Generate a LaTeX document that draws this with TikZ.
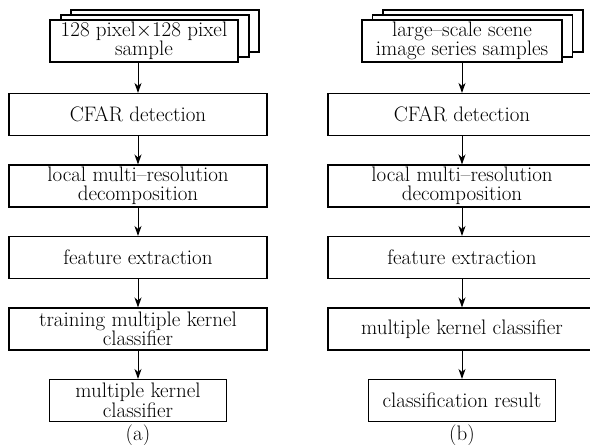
\documentclass[tikz,border=0pt]{standalone}
\usetikzlibrary{arrows.meta}
\tikzset{
  box/.style={draw, line width=1.1pt, fill=white, inner sep=0pt, align=center,
    minimum height=42pt, font=\fontsize{21pt}{19.5pt}\selectfont},
  flow/.style={-{Stealth[length=10pt,width=7pt,inset=3pt]}, line width=1pt}
}
\begin{document}
\begin{tikzpicture}[x=1pt,y=-1pt]
    \useasboundingbox (0,0) rectangle (590,445);
    % (a) training
    \node[box, minimum width=188pt] (sa3) at (165,31) {};
    \node[box, minimum width=188pt] (sa2) at (155,36) {};
    \node[box, minimum width=188pt] (sa) at (144,41) {128 pixel$\times$128 pixel\\sample};
    \node[box, minimum width=258pt] (ca) at (138,114.5) {CFAR detection};
    \node[box, minimum width=258pt] (la) at (138,186) {local multi--resolution\\decomposition};
    \node[box, minimum width=258pt] (fa) at (138,257.5) {feature extraction};
    \node[box, minimum width=258pt] (ta) at (138,329) {training multiple kernel\\classifier};
    \node[box, minimum width=177pt] (ma) at (138,400.5) {multiple kernel\\classifier};
    \node[font=\fontsize{21pt}{19.5pt}\selectfont] (capa) at (138,435) {(a)};
    \draw[flow] (sa.south -| ca) -- (ca);
    \draw[flow] (ca) -- (la);
    \draw[flow] (la) -- (fa);
    \draw[flow] (fa) -- (ta);
    \draw[flow] (ta) -- (ma);
    % (b) test
    \node[box, minimum width=200pt] (sb3) at (483,31) {};
    \node[box, minimum width=200pt] (sb2) at (472.5,36) {};
    \node[box, minimum width=200pt] (sb) at (462,41) {large--scale scene\\image series samples};
    \node[box, minimum width=268pt] (cb) at (462,114.5) {CFAR detection};
    \node[box, minimum width=268pt] (lb) at (462,186) {local multi--resolution\\decomposition};
    \node[box, minimum width=268pt] (fb) at (462,257.5) {feature extraction};
    \node[box, minimum width=268pt] (kb) at (462,329) {multiple kernel classifier};
    \node[box, minimum width=187pt] (rb) at (462,400.5) {classification result};
    \node[font=\fontsize{21pt}{19.5pt}\selectfont] (capb) at (462,435) {(b)};
    \draw[flow] (sb) -- (cb);
    \draw[flow] (cb) -- (lb);
    \draw[flow] (lb) -- (fb);
    \draw[flow] (fb) -- (kb);
    \draw[flow] (kb) -- (rb);
\end{tikzpicture}
\end{document}
